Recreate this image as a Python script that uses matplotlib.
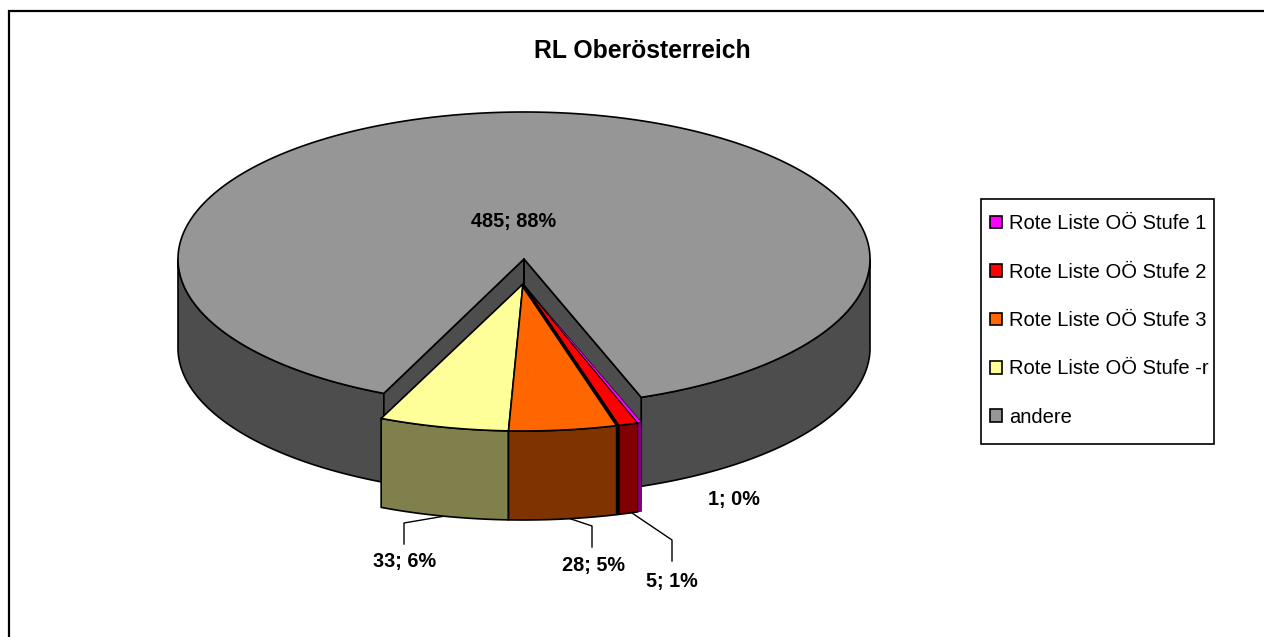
import numpy as np
import matplotlib
matplotlib.use("Agg")
import matplotlib.pyplot as plt
from matplotlib.patches import Patch, Polygon, Rectangle

plt.rcParams['font.family'] = ['Liberation Sans', 'DejaVu Sans']

title = "RL Oberösterreich"
categories = ["Rote Liste OÖ Stufe 1", "Rote Liste OÖ Stufe 2", "Rote Liste OÖ Stufe 3",
              "Rote Liste OÖ Stufe -r", "andere"]
values = [1, 5, 28, 33, 485]
labels = ["1; 0%", "5; 1%", "28; 5%", "33; 6%", "485; 88%"]
top_colors = ["#FF00FF", "#FF0000", "#FF6600", "#FFFF99", "#969696"]
side_colors = ["#800080", "#800000", "#7F3300", "#80804D", "#4D4D4D"]

W, H = 1264, 637
CX, CY = 524, 259      # centre of the main disc
RX, RY = 346, 147      # ellipse radii
DEPTH = 89             # disc thickness
EX_X, EX_Y = -1, 25    # explode offset of the small slices
EX_SCALE = 1.012       # small slices are drawn slightly wider
START = -19.8          # angle of first slice, clockwise from the bottom
EDGE = "black"
LW = 1.2

fig = plt.figure(figsize=(W / 100, H / 100), dpi=100, facecolor="white")
ax = fig.add_axes([0, 0, 1, 1])
ax.set_xlim(0, W)
ax.set_ylim(H, 0)
ax.axis("off")

# chart frame: only left and top edges are visible
ax.plot([9, 9, W], [H, 11, 11], color="black", lw=1.6, solid_joinstyle="miter", zorder=1)


def rim(t, cx, cy, dz=0, sx=1.0):
    r = np.radians(t)
    return cx - RX * sx * np.sin(r), cy + RY * np.cos(r) + dz


def arc(a, b, cx, cy, dz=0, sx=1.0):
    n = max(2, int(abs(b - a) * 2) + 2)
    x, y = rim(np.linspace(a, b, n), cx, cy, dz, sx)
    return np.column_stack([x, y])


def poly(pts, fc, z, lw=LW):
    ax.add_patch(Polygon(pts, closed=True, facecolor=fc, edgecolor=EDGE, lw=lw,
                         joinstyle="round", zorder=z))


edges = START + np.concatenate([[0], np.cumsum(values)]) * 360 / sum(values)

# main slice (last value): outer side, inner walls, top
a0, a1 = edges[4], edges[5]
left = arc(a0, 90, CX, CY)
poly(np.vstack([left, arc(90, a0, CX, CY, DEPTH)]), side_colors[4], 2)
right = arc(270, a1, CX, CY)
poly(np.vstack([right, arc(a1, 270, CX, CY, DEPTH)]), side_colors[4], 2)
centre = (CX, CY)
for a in (a0, a1):
    p = rim(a, CX, CY)
    poly([centre, p, (p[0], p[1] + DEPTH), (CX, CY + DEPTH)], side_colors[4], 3)
poly(np.vstack([[centre], arc(a0, a1, CX, CY)]), top_colors[4], 4)
ax.plot([CX, CX], [CY, CY + EX_Y], color=EDGE, lw=LW, zorder=4)

# exploded slices
ecx, ecy = CX + EX_X, CY + EX_Y
for i in (3, 2, 1, 0):
    a, b = edges[i], edges[i + 1]
    w = 0.4 if i == 0 else LW
    poly(np.vstack([arc(a, b, ecx, ecy, 0, EX_SCALE), arc(b, a, ecx, ecy, DEPTH, EX_SCALE)]),
         side_colors[i], 5, lw=w)
    poly(np.vstack([[(ecx, ecy)], arc(a, b, ecx, ecy, 0, EX_SCALE)]), top_colors[i], 6, lw=w)

# heavier separation between orange and red slice, lying on the orange side
p = rim(edges[2], ecx, ecy, 0, EX_SCALE)
ax.plot([ecx - 1, p[0] - 1.5], [ecy, p[1]], color=EDGE, lw=2.4, zorder=7, solid_capstyle="butt")
ax.plot([p[0] - 1.5, p[0] - 1.5], [p[1], p[1] + DEPTH], color=EDGE, lw=2.4, zorder=7,
        solid_capstyle="butt")

# leader lines
leaders = [
    ([445, 404, 404], [516, 523, 544]),
    ([568, 592, 592], [518, 526, 547]),
    ([632, 672, 672], [513, 540, 561]),
]
for xs, ys in leaders:
    ax.plot(xs, ys, color="black", lw=1.0, zorder=3)

# data labels
label_pos = [(734, 499), (672, 582), (593, 565), (405, 562), (514, 221)]
for txt, (x, y) in zip(labels, label_pos):
    ax.text(x, y, txt, ha="center", va="center", fontsize=14.3, fontweight="bold",
            color="black", zorder=9)

ax.text(642, 51, title, ha="center", va="center", fontsize=17.8, fontweight="bold", color="black")

# legend
ax.add_patch(Rectangle((981, 199), 233, 245, facecolor="white", edgecolor="black", lw=1.2, zorder=8))
handles = [Patch(facecolor=c, edgecolor="black", lw=1.2) for c in top_colors]
leg = ax.legend(handles, categories, loc="upper left", bbox_to_anchor=(990, 214.2),
                bbox_transform=ax.transData, fontsize=14.5, frameon=False,
                handlelength=0.58, handleheight=0.58, handletextpad=0.35,
                labelspacing=1.46, borderpad=0, borderaxespad=0)
leg.set_zorder(9)

fig.savefig("out.png", dpi=100, facecolor="white")
